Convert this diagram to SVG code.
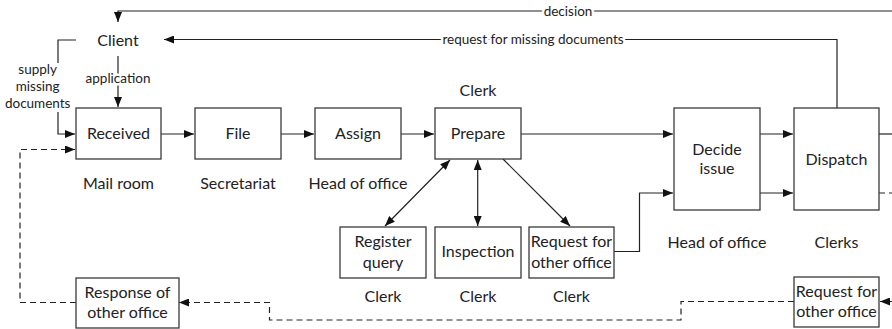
<svg xmlns="http://www.w3.org/2000/svg" width="892" height="329" viewBox="0 0 892 329">
<defs>
<style>
.box{fill:#fff;stroke:#3a3a3a;stroke-width:1.3}
.t{font-family:Lato,"Liberation Sans",sans-serif;font-size:16px;fill:#222;text-anchor:middle}
.s{font-family:Lato,"Liberation Sans",sans-serif;font-size:13.5px;fill:#222;text-anchor:middle}
.halo{paint-order:stroke;stroke:#fff;stroke-width:5px;stroke-linejoin:round}
.c{fill:none;stroke:#222;stroke-width:1.2}
.d{fill:none;stroke:#222;stroke-width:1.2;stroke-dasharray:6,4}
.a{marker-end:url(#arr)}
</style>
<marker id="arr" viewBox="0 0 10 8" refX="10" refY="4" markerWidth="10" markerHeight="8" markerUnits="userSpaceOnUse" orient="auto-start-reverse">
<path d="M0,0 L10,4 L0,8 z" fill="#111"/>
</marker>
</defs>

<g id="connectors">
<path class="c a" d="M892,11 H118 V22"/>
<path class="c a" d="M837,108 V39.5 H164"/>
<path class="c a" d="M118,56 V107"/>
<path class="c" d="M76,40 H58 V63"/>
<path class="c a" d="M58,112 V134 H75"/>
<path class="d a" d="M76,302.5 H20 V149.5 H75"/>
<path class="c a" d="M161,134 H194"/>
<path class="c a" d="M281,134 H314"/>
<path class="c a" d="M401,134 H434"/>
<path class="c a" d="M521,134 H673"/>
<path class="c a" d="M760,134 H793"/>
<path class="c a" d="M760,193 H793"/>
<path class="c a" d="M614,251.5 H639.5 V193 H673"/>
<path class="c" d="M879,134 H892"/>
<path class="d" d="M879,193 H892"/>
<path class="c" style="marker-start:url(#arr);marker-end:url(#arr)" d="M450,160 L385,226"/>
<path class="c" style="marker-start:url(#arr);marker-end:url(#arr)" d="M477.7,160 V226"/>
<path class="c a" d="M503,159 L570,226"/>
<path class="d a" d="M892,301.5 H880"/>
<path class="d a" d="M794,301.5 H681 V320 H269.5 V302.5 H179"/>
<text class="s halo" x="533" y="44">request for missing documents</text>
<text class="s halo" x="568" y="15.5">decision</text>
<text class="s halo" x="118" y="82.5">application</text>
<text class="s" x="37.7" y="74">supply</text>
<text class="s" x="37.7" y="91">missing</text>
<text class="s" x="37.7" y="108">documents</text>
</g>

<g id="client"><text class="t" x="118" y="45.5">Client</text></g>

<g id="received">
<rect class="box" x="76" y="108" width="85" height="51"/>
<text class="t" x="118.5" y="139">Received</text>
<text class="t" x="118.5" y="189">Mail room</text>
</g>
<g id="file">
<rect class="box" x="195" y="108" width="86" height="51"/>
<text class="t" x="238" y="139">File</text>
<text class="t" x="238" y="189">Secretariat</text>
</g>
<g id="assign">
<rect class="box" x="315" y="108" width="86" height="51"/>
<text class="t" x="358" y="139">Assign</text>
<text class="t" x="358" y="189">Head of office</text>
</g>
<g id="prepare">
<rect class="box" x="435" y="108" width="86" height="51"/>
<text class="t" x="478" y="139">Prepare</text>
<text class="t" x="478" y="95.5">Clerk</text>
</g>
<g id="decide">
<rect class="box" x="674" y="108" width="86" height="102"/>
<text class="t" x="717" y="155">Decide</text>
<text class="t" x="717" y="174">issue</text>
<text class="t" x="717" y="247.5">Head of office</text>
</g>
<g id="dispatch">
<rect class="box" x="794" y="108" width="85" height="102"/>
<text class="t" x="836.5" y="164.5">Dispatch</text>
<text class="t" x="836.5" y="247.5">Clerks</text>
</g>
<g id="register">
<rect class="box" x="340" y="227" width="86" height="51"/>
<text class="t" x="383" y="247">Register</text>
<text class="t" x="383" y="268">query</text>
<text class="t" x="383" y="301.5">Clerk</text>
</g>
<g id="inspection">
<rect class="box" x="435" y="227" width="86" height="51"/>
<text class="t" x="478" y="257">Inspection</text>
<text class="t" x="478" y="301.5">Clerk</text>
</g>
<g id="request-other">
<rect class="box" x="529" y="227" width="85" height="51"/>
<text class="t" x="571.5" y="247">Request for</text>
<text class="t" x="571.5" y="268">other office</text>
<text class="t" x="571.5" y="301.5">Clerk</text>
</g>
<g id="response-other">
<rect class="box" x="76" y="278" width="103" height="50"/>
<text class="t" x="127.5" y="298">Response of</text>
<text class="t" x="127.5" y="318">other office</text>
</g>
<g id="request-right">
<rect class="box" x="794" y="277" width="85" height="50"/>
<text class="t" x="836.5" y="297">Request for</text>
<text class="t" x="836.5" y="317">other office</text>
</g>
</svg>
